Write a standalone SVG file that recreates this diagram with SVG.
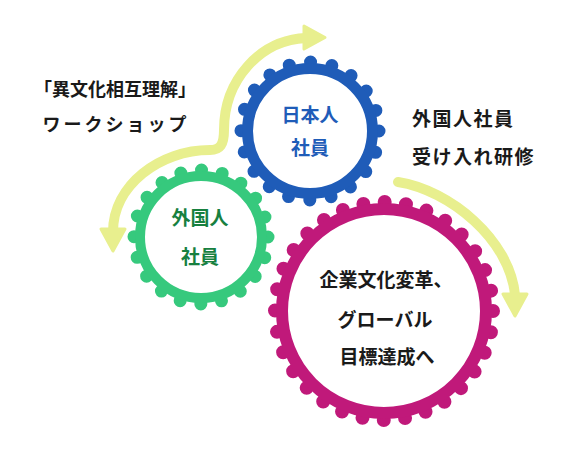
<svg xmlns="http://www.w3.org/2000/svg" width="577" height="453" viewBox="0 0 577 453">
<style>
text{font-family:"Noto Sans CJK JP","Noto Sans",sans-serif;font-weight:700;text-anchor:middle}
.lbl{fill:#1a1a1a;font-size:18px}
.lft{text-anchor:start;font-size:19px;letter-spacing:1.5px}
.arc{fill:none;stroke:#e8ef8e;stroke-width:10;stroke-linecap:round}
.head{fill:#e8ef8e;stroke:#e8ef8e;stroke-width:3;stroke-linejoin:round}
.ring{fill:#fff}
.bumps{fill:none;stroke-linecap:round}
</style>
<rect width="577" height="453" fill="#fff"/>
<g id="connectors">
<path class="arc" d="M113 232 C113 185 160 150 210 150 C220 150 224 145 224 130 C224 80 260 40 306 38"/>
<polygon class="head" points="304,26 325,37.5 304,49"/>
<polygon class="head" points="101,229 125,229 113,251"/>
<path class="arc" d="M398 182 C450 190 510 240 515 295"/>
<polygon class="head" points="503,294 527,294 515,316"/>
</g>
<g id="label-workshop">
<text class="lbl" x="115" y="96">「異文化相互理解」</text>
<text class="lbl" x="116" y="131" style="letter-spacing:3px">ワークショップ</text>
</g>
<g id="label-training">
<text class="lbl lft" x="412" y="126">外国人社員</text>
<text class="lbl lft" x="412" y="164">受け入れ研修</text>
</g>
<g id="node-japanese">
<circle class="bumps" cx="310" cy="131" r="69" stroke="#1f5cb8" stroke-width="13" stroke-dasharray="0 21.68"/>
<circle class="ring" cx="310" cy="131" r="62.5" stroke="#1f5cb8" stroke-width="11"/>
<text x="310" y="122" fill="#1f5cb8" font-size="19">日本人</text>
<text x="310" y="155" fill="#1f5cb8" font-size="19">社員</text>
</g>
<g id="node-foreign">
<circle class="bumps" cx="201" cy="237" r="67" stroke="#36c97d" stroke-width="13" stroke-dasharray="0 21.05"/>
<circle class="ring" cx="201" cy="237" r="61" stroke="#36c97d" stroke-width="10"/>
<text x="200" y="225" fill="#17803f" font-size="19">外国人</text>
<text x="200" y="264" fill="#17803f" font-size="19">社員</text>
</g>
<g id="node-goal">
<circle class="bumps" cx="384" cy="311" r="109" stroke="#c0197a" stroke-width="14" stroke-dasharray="0 21.41"/>
<circle class="ring" cx="384" cy="311" r="102" stroke="#c0197a" stroke-width="12"/>
<text x="386" y="287" fill="#1a1a1a" font-size="19">企業文化変革、</text>
<text x="385" y="327" fill="#1a1a1a" font-size="19">グローバル</text>
<text x="387" y="364" fill="#1a1a1a" font-size="19">目標達成へ</text>
</g>
</svg>
